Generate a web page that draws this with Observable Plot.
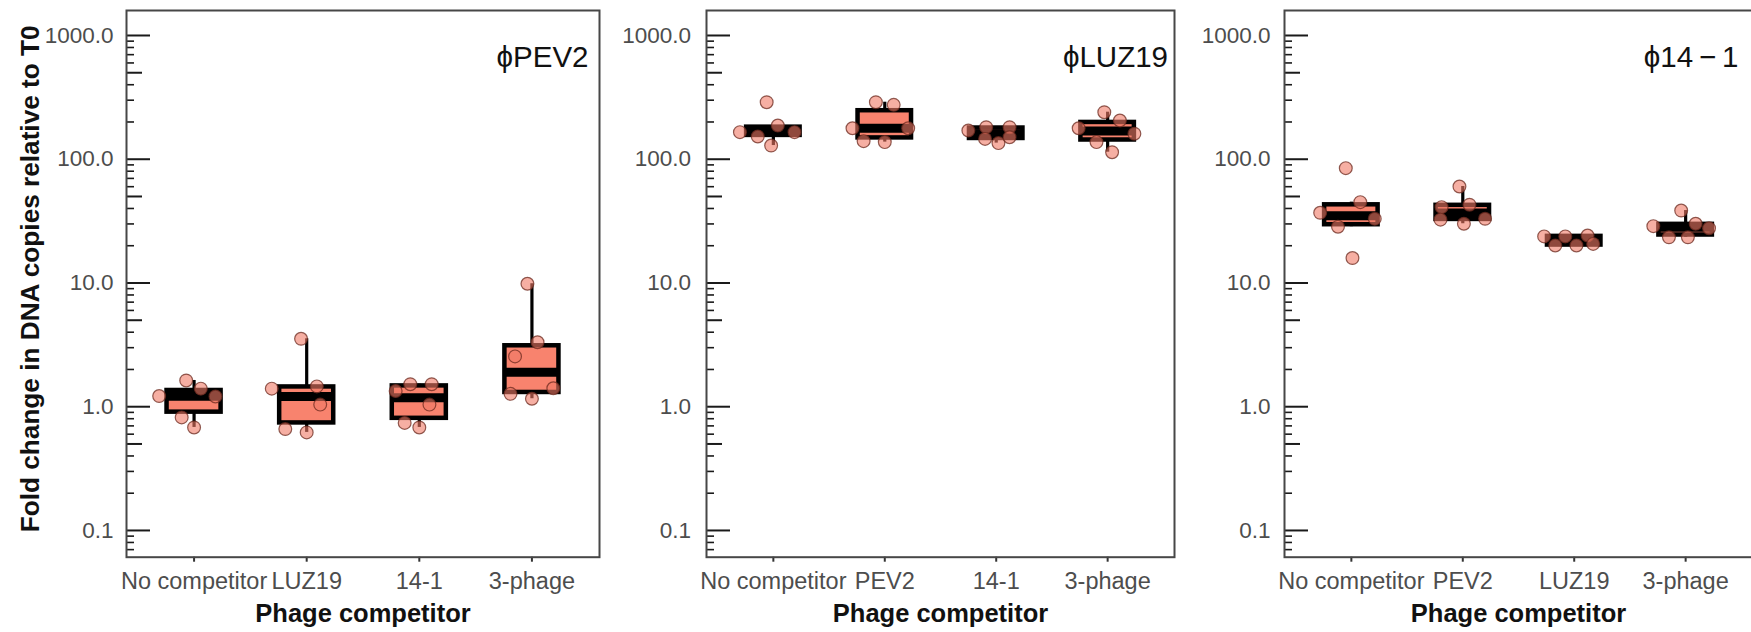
<!DOCTYPE html>
<html>
<head>
<meta charset="utf-8">
<script src="https://cdn.jsdelivr.net/npm/d3@7"></script>
<script src="https://cdn.jsdelivr.net/npm/@observablehq/plot@0.6"></script>
<style>
  html, body { margin: 0; padding: 0; background: #fff; }
  #chart { position: relative; width: 1751px; height: 632px; overflow: hidden;
           font-family: "Liberation Sans", Arial, sans-serif; }
  #chart svg { position: absolute; top: 0; }
</style>
</head>
<body>
<div id="chart"></div>
<script>
// Phage whose DNA copies are counted in each panel
const panelTitles = ["ϕPEV2", "ϕLUZ19", "ϕ14\u2009−\u20091"];

// Competitor categories on each panel's x axis
const competitorsPEV2  = ["No competitor", "LUZ19", "14-1", "3-phage"];
const competitorsLUZ19 = ["No competitor", "PEV2", "14-1", "3-phage"];
const competitors141   = ["No competitor", "PEV2", "LUZ19", "3-phage"];

// Fold change in DNA copies relative to T0, six replicates per competitor
const foldPEV2 = [
  [1.22, 1.63, 1.40, 1.21, 0.82, 0.68],
  [3.54, 1.40, 1.46, 1.04, 0.66, 0.62],
  [1.34, 1.52, 1.52, 1.04, 0.74, 0.68],
  [9.86, 3.32, 2.55, 1.27, 1.41, 1.16]
];
const foldLUZ19 = [
  [289, 165.5, 152.7, 187.4, 165.5, 129],
  [289, 275, 178, 178, 140, 137.5],
  [170.7, 181.5, 181.5, 146, 135, 150.7],
  [240, 205.6, 178, 160.8, 137.5, 114]
];
const fold141 = [
  [84.7, 36.9, 45, 33, 28.5, 15.9],
  [60.2, 41, 42.9, 32.5, 30.1, 33],
  [23.8, 20.1, 23.8, 20.1, 24.2, 20.7],
  [38.5, 28.8, 23.4, 23.4, 30.1, 27.7]
];

// Horizontal jitter of each replicate dot, in category widths
const jitterPEV2 = [
  [-0.31, -0.07, 0.06, 0.19, -0.11, 0.00],
  [-0.05, -0.31, 0.09, 0.12, -0.19, 0.00],
  [-0.21, -0.08, 0.11, 0.09, -0.13, 0.00],
  [-0.04, 0.05, -0.15, -0.19, 0.19, 0.00]
];
const jitterLUZ19 = [
  [-0.06, -0.30, -0.14, 0.04, 0.19, -0.02],
  [-0.08, 0.08, -0.29, 0.21, -0.19, 0.00],
  [-0.25, -0.09, 0.12, -0.10, 0.02, 0.12],
  [-0.03, 0.11, -0.26, 0.24, -0.10, 0.04]
];
const jitter141 = [
  [-0.05, -0.28, 0.08, 0.21, -0.12, 0.01],
  [-0.03, -0.19, 0.06, -0.20, 0.01, 0.20],
  [-0.27, -0.17, -0.08, 0.02, 0.12, 0.17],
  [-0.04, -0.29, -0.15, 0.02, 0.09, 0.21]
];

// Axis text
const yTickValues = [0.1, 1, 10, 100, 1000];
const xTitle = "Phage competitor";
const yTitle = "Fold change in DNA copies relative to T0";

// ---- layout and style ----
const H = 632, MT = 10, MB = 75.3;
const yDomain = [0.0608, 1592];
const xDomain = [-0.6, 3.6];
const boxWidth = 0.48;
const salmon = "#F8836E";
const fontFamily = '"Liberation Sans", Arial, sans-serif';

const panels = [
  {title: panelTitles[0], cats: competitorsPEV2,  fold: foldPEV2,  jitter: jitterPEV2,  left: 126,   right: 599,    titleInset: 11,  labelGap: 13,   showYTitle: true},
  {title: panelTitles[1], cats: competitorsLUZ19, fold: foldLUZ19, jitter: jitterLUZ19, left: 705.5, right: 1173.5, titleInset: 6.5, labelGap: 15.5, showYTitle: false},
  {title: panelTitles[2], cats: competitors141,   fold: fold141,   jitter: jitter141,   left: 1284,  right: 1752,   titleInset: 14,  labelGap: 14,   showYTitle: false}
];

// Box-plot summary computed on the log10 scale (Tukey whiskers, 1.5 IQR)
function boxStats(values, i) {
  const logs = values.map(Math.log10).sort(d3.ascending);
  const q1 = d3.quantileSorted(logs, 0.25);
  const med = d3.quantileSorted(logs, 0.5);
  const q3 = d3.quantileSorted(logs, 0.75);
  const iqr = q3 - q1;
  const lo = d3.min(logs.filter(l => l >= q1 - 1.5 * iqr));
  const hi = d3.max(logs.filter(l => l <= q3 + 1.5 * iqr));
  return {i, q1: 10 ** q1, med: 10 ** med, q3: 10 ** q3, lo: 10 ** lo, hi: 10 ** hi};
}

// Log-axis tick sets: majors per decade, medium at 5, short at the rest
const inDomain = v => v >= yDomain[0] && v <= yDomain[1];
const midTicks = [0.05, 0.5, 5, 50, 500].filter(inDomain);
const minorTicks = [];
for (const dec of [0.01, 0.1, 1, 10, 100, 1000])
  for (const m of [2, 3, 4, 6, 7, 8, 9]) minorTicks.push(+(m * dec).toPrecision(3));
const minorIn = minorTicks.filter(inDomain);

const chart = document.getElementById("chart");

panels.forEach((p, k) => {
  const svgStart = k === 0 ? 0 : p.left - 106;
  const marginLeft = p.left - svgStart;
  const width = p.right - svgStart + 2;
  const marginRight = 2;
  const frameW = p.right - p.left;

  const stats = p.fold.map((vals, i) => boxStats(vals, i));
  const dots = p.fold.flatMap((vals, i) => vals.map((v, j) => ({i, v, dx: p.jitter[i][j]})));

  const marks = [
    // whiskers
    Plot.ruleX(stats, {x: "i", y1: "lo", y2: "hi", stroke: "#000", strokeWidth: 3.2}),
    // boxes
    Plot.rect(stats, {x1: d => d.i - boxWidth / 2, x2: d => d.i + boxWidth / 2, y1: "q1", y2: "q3",
                      fill: salmon, stroke: "#000", strokeWidth: 4.5}),
    // medians
    Plot.ruleY(stats, {y: "med", x1: d => d.i - boxWidth / 2, x2: d => d.i + boxWidth / 2,
                       stroke: "#000", strokeWidth: 9}),
    // replicates
    Plot.dot(dots, {x: d => d.i + d.dx, y: "v", r: 6.4, fill: "#F07A66", fillOpacity: 0.6,
                    stroke: "#6b2a1f", strokeOpacity: 0.75, strokeWidth: 1.2}),
    // inward log ticks
    Plot.tickY(yTickValues, {y: d => d, insetRight: frameW - 24, stroke: "#1a1a1a", strokeWidth: 2}),
    Plot.tickY(midTicks, {y: d => d, insetRight: frameW - 16, stroke: "#1a1a1a", strokeWidth: 2}),
    Plot.tickY(minorIn, {y: d => d, insetRight: frameW - 8, stroke: "#1a1a1a", strokeWidth: 1.6}),
    Plot.axisY({ticks: yTickValues, tickFormat: d3.format(".1f"), tickSize: 0, tickPadding: p.labelGap,
                fontSize: 22.5, fill: "#4d4d4d", label: null}),
    Plot.axisX({ticks: [0, 1, 2, 3], tickFormat: i => p.cats[i], tickSize: 5, tickPadding: 10,
                fontSize: 23.5, fill: "#4d4d4d", stroke: "#333", strokeWidth: 2, label: null}),
    Plot.text([xTitle], {frameAnchor: "bottom", textAnchor: "middle", lineAnchor: "bottom", dy: 65,
                         fontSize: 25.5, fontWeight: "bold", fill: "#111"}),
    Plot.text([p.title], {frameAnchor: "top-right", textAnchor: "end", lineAnchor: "bottom",
                          dx: -p.titleInset, dy: 56, fontSize: 29.5, fill: "#111"}),
    Plot.frame({stroke: "#474747", strokeWidth: 2})
  ];
  if (p.showYTitle) {
    marks.push(Plot.text([yTitle], {frameAnchor: "left", textAnchor: "middle", rotate: -90,
                                    lineAnchor: "bottom", dx: -88, dy: -5,
                                    fontSize: 26.2, fontWeight: "bold", fill: "#111"}));
  }

  const svg = Plot.plot({
    width, height: H,
    marginLeft, marginRight, marginTop: MT, marginBottom: MB,
    x: {type: "linear", domain: xDomain},
    y: {type: "log", domain: yDomain},
    style: {background: "transparent", overflow: "visible", fontFamily},
    marks
  });
  svg.style.left = svgStart + "px";
  chart.appendChild(svg);
});
</script>
</body>
</html>
